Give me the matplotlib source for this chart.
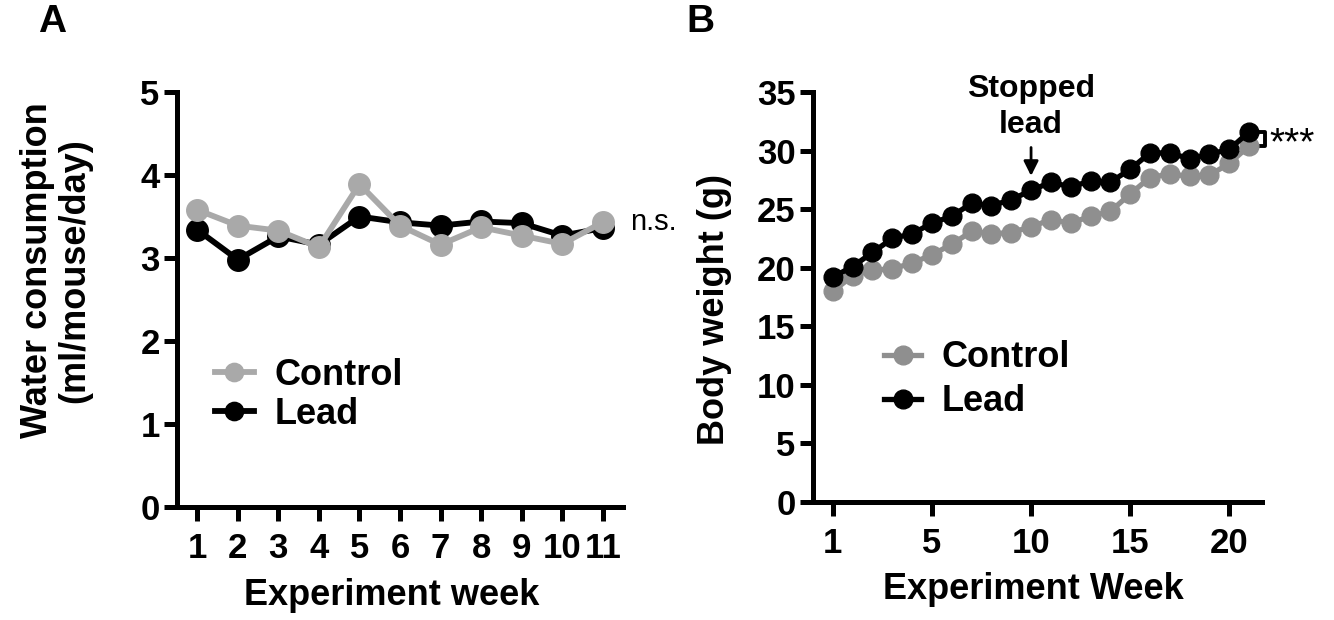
import numpy as np
import matplotlib
matplotlib.use("Agg")
import matplotlib.pyplot as plt

plt.rcParams['font.family'] = ['Liberation Sans', 'DejaVu Sans']

# ---------------- data ----------------
weeks_a = [1, 2, 3, 4, 5, 6, 7, 8, 9, 10, 11]
water_control = [3.58, 3.39, 3.33, 3.13, 3.89, 3.39, 3.16, 3.37, 3.27, 3.17, 3.43]
water_lead = [3.34, 2.98, 3.26, 3.16, 3.50, 3.43, 3.39, 3.44, 3.42, 3.27, 3.36]

weight_control = [18.0, 19.3, 19.8, 19.9, 20.4, 21.1, 22.0, 23.1, 22.9, 23.0, 23.5,
                  24.1, 23.8, 24.4, 24.8, 26.3, 27.7, 28.0, 27.8, 27.9, 28.9, 30.4]
weight_lead = [19.2, 20.1, 21.3, 22.5, 22.9, 23.8, 24.4, 25.5, 25.3, 25.8, 26.6,
               27.3, 26.9, 27.4, 27.3, 28.4, 29.8, 29.8, 29.3, 29.7, 30.1, 31.6]
tick_pos_b = [0, 5, 10, 15, 20]
tick_labels_b = ['1', '5', '10', '15', '20']

gray_a = '#a9a9a9'
gray_b = '#8f8f8f'

W, H = 1334, 620
fig = plt.figure(figsize=(W / 100, H / 100), dpi=100)

def ax_at(l, r, t, b):
    return fig.add_axes([l / W, 1 - b / H, (r - l) / W, (b - t) / H])

TICK_FS = 25
LAB_FS = 26
SPINE_W = 3.6

def style(ax):
    for s in ['top', 'right']:
        ax.spines[s].set_visible(False)
    for s in ['left', 'bottom']:
        ax.spines[s].set_linewidth(SPINE_W)
    ax.tick_params(axis='both', direction='out', width=SPINE_W, labelsize=TICK_FS)
    ax.tick_params(axis='y', length=9.5, pad=3)
    ax.tick_params(axis='x', length=10, pad=8)

# ---------------- Panel A ----------------
axA = ax_at(177, 623, 92, 507)
lA, = axA.plot(weeks_a, water_lead, '-o', color='black', lw=4.2, ms=15.5, clip_on=False, zorder=3)
cA, = axA.plot(weeks_a, water_control, '-o', color=gray_a, lw=4.2, ms=15.5, clip_on=False, zorder=4)
axA.set_xlim(0.5, 11.5)
axA.set_ylim(0, 5)
axA.set_xticks(weeks_a)
axA.set_yticks([0, 1, 2, 3, 4, 5])
style(axA)
axA.set_xticklabels([str(w) for w in weeks_a], fontweight='bold')
axA.set_yticklabels([str(v) for v in range(6)], fontweight='bold')
axA.set_xlabel('Experiment week', fontsize=LAB_FS, fontweight='bold')
axA.xaxis.set_label_coords(0.482, -0.17)
axA.set_ylabel('Water consumption\n(ml/mouse/day)', fontsize=LAB_FS, fontweight='bold',
               linespacing=1.1)
axA.yaxis.set_label_coords(-0.19, 0.57)
axA.text(11.68, water_control[-1], 'n.s.', fontsize=21, va='center', ha='left')
axA.legend([cA, lA], ['Control', 'Lead'], loc='upper left', bbox_to_anchor=(0.052, 0.395),
           frameon=False, prop={'weight': 'bold', 'size': LAB_FS},
           handlelength=1.1, handletextpad=0.55, labelspacing=0.12, numpoints=1,
           markerscale=0.85, borderaxespad=0)

# ---------------- Panel B ----------------
axB = ax_at(813, 1262, 92, 502)
xb = np.arange(len(weight_control))
cB, = axB.plot(xb, weight_control, '-o', color=gray_b, lw=3.8, ms=13.5, clip_on=False, zorder=3)
lB, = axB.plot(xb, weight_lead, '-o', color='black', lw=3.8, ms=13.5, clip_on=False, zorder=4)
axB.set_xlim(-1.0, 21.65)
axB.set_ylim(0, 35)
axB.set_xticks(tick_pos_b)
axB.set_yticks(list(range(0, 36, 5)))
style(axB)
axB.set_xticklabels(tick_labels_b, fontweight='bold')
axB.set_yticklabels([str(v) for v in range(0, 36, 5)], fontweight='bold')
axB.set_xlabel('Experiment Week', fontsize=LAB_FS, fontweight='bold')
axB.xaxis.set_label_coords(0.49, -0.17)
axB.set_ylabel('Body weight (g)', fontsize=LAB_FS, fontweight='bold')
axB.yaxis.set_label_coords(-0.18, 0.47)

# Stopped lead annotation
axB.text(10, 30.9, 'Stopped\nlead', fontsize=23, fontweight='bold', ha='center', va='bottom',
         linespacing=1.25)
axB.annotate('', xy=(10, 27.6), xytext=(10, 30.5),
             arrowprops=dict(arrowstyle='-|>', color='black', lw=2, mutation_scale=22))

# significance bracket
bx = 21.8
axB.plot([bx - 0.3, bx, bx, bx - 0.3], [weight_lead[-1], weight_lead[-1],
         weight_control[-1], weight_control[-1]], color='black', lw=2.8, clip_on=False)
axB.text(bx + 0.25, (weight_lead[-1] + weight_control[-1]) / 2 - 0.5, '***', fontsize=28,
         ha='left', va='center')

axB.legend([cB, lB], ['Control', 'Lead'], loc='upper left', bbox_to_anchor=(0.125, 0.43),
           frameon=False, prop={'weight': 'bold', 'size': LAB_FS},
           handlelength=1.05, handletextpad=0.55, labelspacing=0.25, numpoints=1,
           markerscale=1.0, borderaxespad=0)

fig.text(52 / W, 1 - 22 / H, 'A', fontsize=28, fontweight='bold', ha='center', va='center')
fig.text(700 / W, 1 - 22 / H, 'B', fontsize=28, fontweight='bold', ha='center', va='center')

fig.savefig('out.png', dpi=100)
